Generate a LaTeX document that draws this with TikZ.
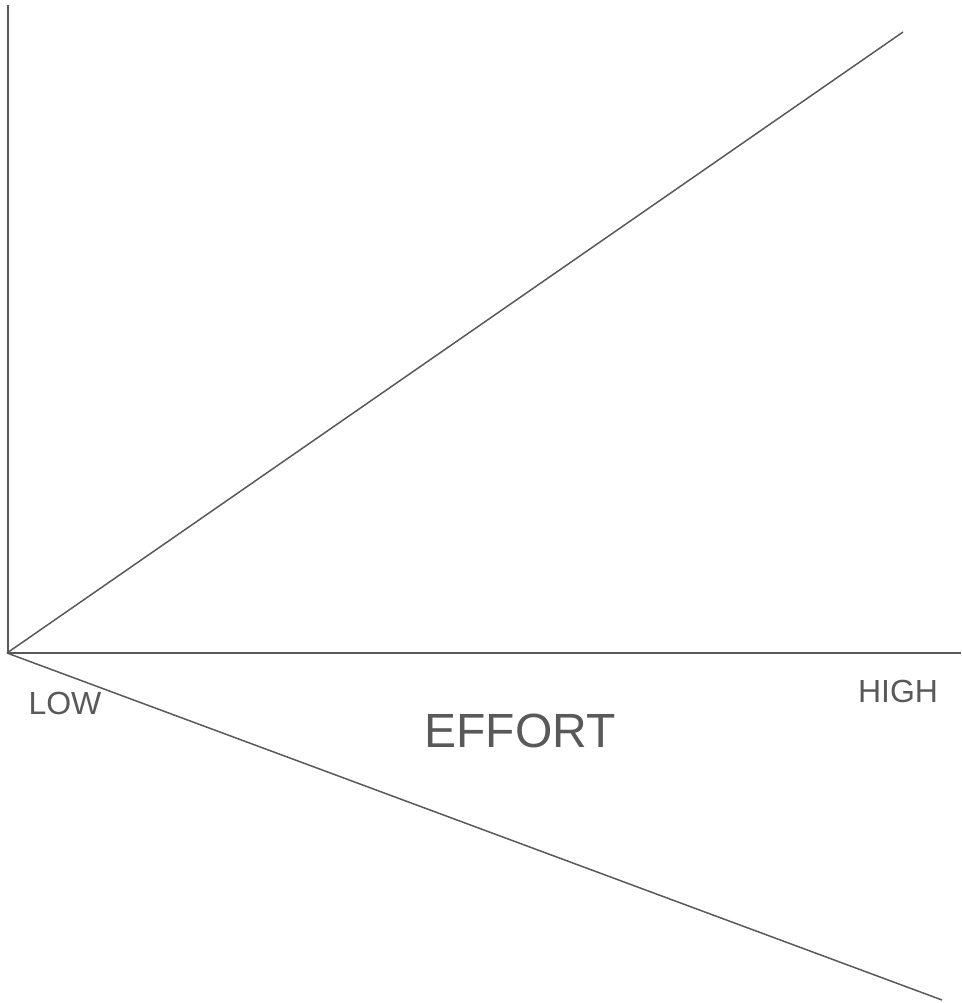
\documentclass[tikz,border=0pt]{standalone}
\usepackage{fontspec}
\setmainfont{Liberation Sans}
\definecolor{ink}{HTML}{595959}
\begin{document}
\begin{tikzpicture}[x=1pt,y=-1pt,
  axis/.style={draw=ink,line width=1.6pt},
  trend/.style={draw=ink,line width=1.5pt},
  lbl/.style={text=ink,inner sep=0pt,anchor=center,font=\fontsize{32}{36}\selectfont},
  biglbl/.style={text=ink,inner sep=0pt,anchor=center,font=\fontsize{48}{54}\selectfont}]
\useasboundingbox (0,0) rectangle (961,1003);
\coordinate (o) at (7,653);
\coordinate (ytop) at (8,5);
\coordinate (xend) at (961,653);
\coordinate (up) at (903,32);
\coordinate (down) at (942,1000);
\draw[axis] (o) -- (8,653) -- (ytop);
\draw[axis] (o) -- (xend);
\draw[trend] (o) -- (up);
\draw[trend] (o) -- (down);
\node[lbl] (low) at (65,703) {LOW};
\node[lbl] (high) at (898,691) {HIGH};
\node[biglbl] (effort) at (520,731) {EFFORT};
\end{tikzpicture}
\end{document}
